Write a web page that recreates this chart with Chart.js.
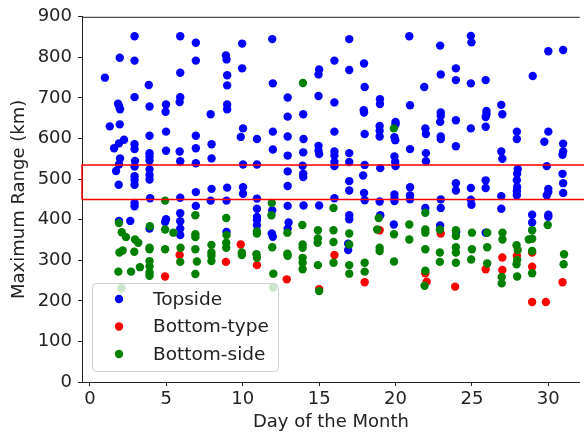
<!DOCTYPE html>
<html>
<head>
<meta charset="utf-8">
<script src="https://cdn.jsdelivr.net/npm/chart.js@4.4.1/dist/chart.umd.min.js"></script>
<style>
  body { margin: 0; background: #fff; }
</style>
</head>
<body>
<canvas id="rangeChart" width="584" height="433"></canvas>
<script>
// [day, maximum range km]
const topside = [
    [0.98,750],[1.30,630],[1.58,576],[1.71,520],[1.95,799],[1.84,686],[1.90,680],[1.97,672],
    [1.95,635],[1.90,588],[2.23,597],[1.97,551],[1.90,536],[1.88,486],[1.90,397],[2.64,397],
    [2.92,852],[2.92,792],[2.92,702],[2.92,586],[2.92,574],[2.95,545],[2.92,531],[2.92,507],
    [2.92,498],[2.92,486],[2.92,441],[2.92,433],
    [3.85,732],[3.90,679],[3.90,607],[3.90,564],[3.90,556],[3.90,546],[3.90,524],[3.90,510],
    [3.90,499],[3.94,453],[3.90,378],
    [4.98,684],[4.95,666],[4.98,617],[4.98,570],[4.98,401],[4.92,394],
    [5.91,852],[5.91,762],[5.91,702],[5.87,690],[5.87,568],[5.91,544],[5.91,454],[5.91,416],
    [5.91,396],[5.91,378],[5.91,362],
    [6.93,836],[6.93,792],[6.93,607],[6.93,576],[6.93,539],[6.93,468],[6.93,434],
    [7.90,660],[7.96,586],[7.96,551],[7.96,476],[7.90,447],
    [8.90,805],[8.94,795],[8.98,756],[8.98,731],[8.98,684],[8.98,672],[8.98,479],[8.94,447],[8.94,370],
    [9.96,834],[9.96,773],[10.02,625],[9.87,604],[10.02,536],[10.02,480],[10.02,464],
    [10.93,599],[10.93,536],[10.93,452],[10.93,427],[10.93,407],[10.93,399],[10.93,386],
    [11.93,845],[11.97,736],[11.97,617],[11.97,573],[11.93,423],[11.90,366],[11.97,358],
    [12.94,701],[12.94,654],[12.94,605],[12.94,558],[12.94,519],[12.94,483],[12.94,434],[13.00,393],[12.94,378],
    [13.96,660],[13.98,599],[13.96,566],[13.92,533],[13.96,513],[13.96,505],[13.98,435],
    [15.00,770],[14.96,758],[14.96,705],[14.96,582],[14.96,570],[15.00,562],[15.00,435],
    [16.00,792],[16.00,689],[16.00,617],[16.00,568],[16.00,558],[16.00,542],[16.00,532],[16.00,453],
    [16.97,845],[16.97,769],[16.97,564],[16.97,542],[16.97,495],[16.97,472],[16.97,411],[16.97,401],
    [16.90,341],[16.90,325],
    [17.94,785],[17.98,727],[17.92,670],[17.94,664],[17.98,611],[17.98,535],[17.88,509],[17.94,466],[17.98,448],
    [18.98,697],[18.98,685],[18.96,631],[18.96,619],[18.96,605],[19.00,527],[18.96,445],[19.00,411],
    [20.00,641],[20.00,635],[19.93,603],[19.98,596],[19.93,556],[19.98,542],[20.00,532],[19.93,462],
    [19.93,452],[19.93,446],[19.89,388],
    [20.90,852],[20.95,682],[20.95,574],[20.95,480],[20.95,460],[20.95,450],
    [21.88,727],[21.95,625],[21.99,611],[21.99,564],[21.99,544],[21.95,429],
    [22.92,829],[22.96,758],[22.96,664],[22.96,656],[22.92,641],[22.96,605],[22.96,599],[22.96,450],
    [22.96,429],[22.92,386],
    [23.95,773],[23.95,744],[23.95,645],[23.95,581],[23.95,490],[23.95,472],[23.97,370],
    [24.93,853],[24.97,837],[24.93,736],[24.93,625],[24.93,478],[24.93,449],[24.97,437],
    [25.90,744],[25.95,668],[25.95,660],[25.90,653],[25.90,629],[25.90,497],[25.90,478],[25.90,368],
    [26.92,683],[26.99,660],[26.92,568],[26.99,550],[26.92,458],[26.92,427],
    [27.94,617],[27.94,599],[28.00,525],[27.96,513],[27.94,497],[27.96,480],[27.94,470],[27.94,460],
    [28.94,412],[28.94,393],[28.98,754],
    [30.00,815],[29.74,592],[30.00,617],[29.90,532],[30.00,476],[30.00,468],[29.90,460],[30.00,412],[30.00,407],
    [30.97,818],[30.97,587],[30.97,568],[30.93,560],[30.93,513],[30.97,490],[30.97,466]
];

const bottomType = [
    [4.92,260],[5.87,313],[8.90,296],[9.87,339],[10.93,288],[12.88,253],[15.00,229],[16.00,313],
    [17.98,246],[18.96,374],[21.95,268],[22.04,247],[22.96,366],[23.90,235],[25.90,278],[26.99,307],
    [26.99,276],[27.94,311],[28.94,319],[28.94,284],[28.94,197],[29.84,197],[30.93,246]
];

const bottomSide = [
    [1.90,392],[2.08,369],[2.36,357],[1.93,319],[2.14,324],[1.86,272],[2.06,231],[2.69,272],
    [2.95,351],[3.16,343],[2.90,321],[3.27,283],
    [3.92,384],[3.90,331],[3.90,327],[3.90,298],[3.90,285],[3.90,270],[3.90,262],
    [4.92,447],[4.92,376],[5.46,368],[4.92,327],[5.93,331],[5.91,296],
    [6.90,411],[6.90,364],[6.90,357],[6.90,327],[7.00,297],[6.90,266],
    [7.95,338],[7.95,319],[7.95,311],[7.95,298],
    [8.92,404],[8.94,362],[8.92,343],[8.92,331],[9.94,319],[9.94,313],
    [10.93,371],[10.93,366],[10.90,315],[10.93,306],
    [11.90,441],[11.88,411],[11.93,332],[12.00,267],[12.00,233],
    [12.92,368],[12.92,316],[12.94,311],
    [13.94,737],[13.90,387],[13.92,339],[13.92,331],[13.92,306],[13.92,294],[13.92,278],
    [14.92,374],[14.92,354],[14.90,343],[14.92,288],[15.00,224],
    [15.94,429],[15.94,374],[15.94,345],[15.94,294],
    [16.97,366],[16.97,339],[16.97,288],[16.97,267],
    [17.98,294],[17.98,272],
    [18.90,404],[18.80,376],[18.96,331],[18.96,323],
    [19.89,625],[19.90,364],[19.90,297],
    [20.90,388],[20.90,351],
    [21.95,417],[21.95,376],[21.95,368],[21.95,327],[21.95,274],[21.90,237],
    [22.90,376],[22.90,319],[22.90,296],
    [23.95,374],[23.95,360],[23.95,332],[23.95,319],[23.95,294],
    [25.00,368],[25.00,327],[24.95,302],
    [26.00,368],[26.00,332],[26.00,292],
    [27.00,368],[27.00,351],[26.95,259],[26.95,243],
    [27.92,337],[28.00,325],[27.96,301],[27.92,290],[27.96,260],
    [28.94,374],[28.94,353],[28.72,351],[28.94,323],[28.94,268],
    [29.96,387],
    [31.03,315],[31.00,290]
];

const xTicks = [0, 5, 10, 15, 20, 25, 30];
const yTicks = [0, 100, 200, 300, 400, 500, 600, 700, 800, 900];
const boxLow = 450;
const boxHigh = 535;

const pts = arr => arr.map(p => ({ x: p[0], y: p[1] }));

Chart.defaults.font.family = 'DejaVu Sans';
Chart.defaults.font.size = 18;
Chart.defaults.color = '#222';

// top spine + legend box drawn inside the axes, like matplotlib
const frameAndLegend = {
    id: 'frameAndLegend',
    afterDraw(chart) {
        const { ctx, chartArea: a } = chart;
        ctx.save();
        ctx.strokeStyle = '#222';
        ctx.lineWidth = 1;
        ctx.beginPath();
        ctx.moveTo(a.left, a.top + 0.5);
        ctx.lineTo(a.right, a.top + 0.5);
        ctx.stroke();

        ctx.beginPath();
        ctx.roundRect(92.5, 283.5, 186, 88, 4);
        ctx.fillStyle = 'rgba(255,255,255,0.8)';
        ctx.fill();
        ctx.strokeStyle = '#d0d0d0';
        ctx.stroke();

        const items = [['Topside', '#0000ff'], ['Bottom-type', '#ff0000'], ['Bottom-side', '#008000']];
        ctx.font = '18.5px "DejaVu Sans"';
        ctx.textBaseline = 'middle';
        items.forEach((it, i) => {
            const y = 299 + i * 27.5;
            ctx.beginPath();
            ctx.arc(119, y, 4.2, 0, Math.PI * 2);
            ctx.fillStyle = it[1];
            ctx.fill();
            ctx.fillStyle = '#222';
            ctx.fillText(it[0], 153, y + 1);
        });
        ctx.restore();
    }
};

new Chart(document.getElementById('rangeChart'), {
    type: 'scatter',
    data: {
        datasets: [
            {
                label: 'box',
                type: 'line',
                data: [
                    { x: -0.52, y: boxLow }, { x: 40, y: boxLow },
                    { x: 40, y: boxHigh }, { x: -0.52, y: boxHigh }, { x: -0.52, y: boxLow }
                ],
                borderColor: '#ff0000',
                borderWidth: 1.5,
                pointRadius: 0,
                fill: false,
                clip: false,
                order: 0
            },
            {
                label: 'Bottom-side',
                data: pts(bottomSide),
                backgroundColor: '#008000',
                borderWidth: 0,
                pointRadius: 4.2,
                order: 1
            },
            {
                label: 'Bottom-type',
                data: pts(bottomType),
                backgroundColor: '#ff0000',
                borderWidth: 0,
                pointRadius: 4.2,
                order: 2
            },
            {
                label: 'Topside',
                data: pts(topside),
                backgroundColor: '#0000ff',
                borderWidth: 0,
                pointRadius: 4.2,
                order: 3
            }
        ]
    },
    options: {
        responsive: false,
        animation: false,
        devicePixelRatio: 1,
        layout: { padding: { top: 14, right: 0, left: 0, bottom: 0 } },
        plugins: {
            legend: { display: false },
            tooltip: { enabled: false }
        },
        scales: {
            x: {
                type: 'linear',
                min: -0.52,
                max: 32.06,
                afterBuildTicks: s => { s.ticks = xTicks.map(v => ({ value: v })); },
                afterFit: s => { s.height = 51; },
                grid: { drawOnChartArea: false, tickLength: 4, tickColor: '#222' },
                border: { color: '#222', width: 1 },
                ticks: { padding: 3, maxRotation: 0 },
                title: { display: true, text: 'Day of the Month', padding: { top: 0, bottom: 0 } }
            },
            y: {
                type: 'linear',
                min: 0,
                max: 900,
                afterBuildTicks: s => { s.ticks = yTicks.map(v => ({ value: v })); },
                afterFit: s => { s.width = 82; },
                grid: { drawOnChartArea: false, tickLength: 4, tickColor: '#222' },
                border: { color: '#222', width: 1 },
                ticks: { padding: 6 },
                title: { display: true, text: 'Maximum Range (km)', padding: { top: 9, bottom: 4 } }
            }
        }
    },
    plugins: [frameAndLegend]
});
</script>
</body>
</html>
